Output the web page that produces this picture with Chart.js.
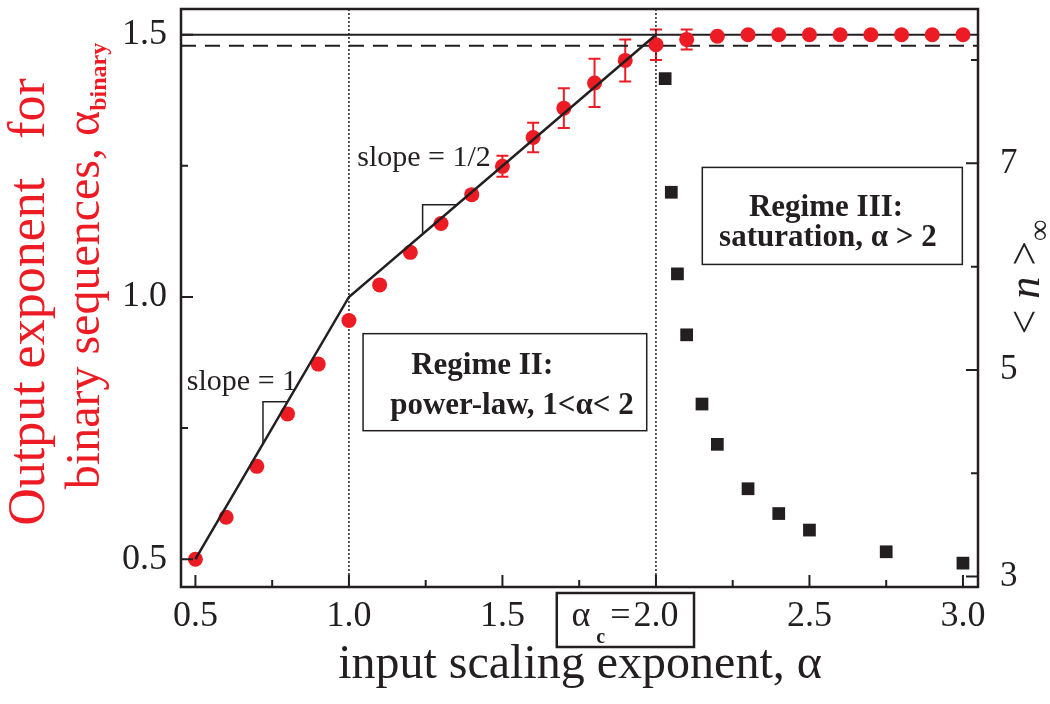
<!DOCTYPE html>
<html>
<head>
<meta charset="utf-8">
<script src="https://cdn.jsdelivr.net/npm/chart.js@4.4.1/dist/chart.umd.min.js"></script>
<style>
  html, body { margin: 0; padding: 0; background: #fff; }
  #wrap { width: 1050px; height: 704px; }
</style>
</head>
<body>
<div id="wrap"><canvas id="chart" width="1050" height="704"></canvas></div>
<script>
// input exponent alpha for the red points
var alphaIn = [0.5, 0.6, 0.7, 0.8, 0.9, 1.0, 1.1, 1.2, 1.3, 1.4, 1.5, 1.6, 1.7,
               1.8, 1.9, 2.0, 2.1, 2.2, 2.3, 2.4, 2.5, 2.6, 2.7, 2.8, 2.9, 3.0];
// output exponent alpha_binary (left axis)
var alphaBinary = [0.500, 0.580, 0.677, 0.777, 0.872, 0.955, 1.023, 1.085, 1.140, 1.195,
                   1.249, 1.304, 1.360, 1.408, 1.451, 1.481, 1.491, 1.497, 1.500, 1.500,
                   1.500, 1.500, 1.500, 1.500, 1.500, 1.500];
var alphaErr = [0, 0, 0, 0, 0, 0, 0, 0, 0, 0.008,
                0.020, 0.028, 0.038, 0.046, 0.040, 0.029, 0.019, 0, 0, 0,
                0, 0, 0, 0, 0, 0];
// <n>_inf (right axis)
var nAlpha = [2.03, 2.05, 2.07, 2.10, 2.15, 2.20, 2.30, 2.40, 2.50, 2.75, 3.00];
var nInf = [7.82, 6.72, 5.93, 5.34, 4.67, 4.28, 3.85, 3.61, 3.45, 3.24, 3.13];

// guide lines
var fitX = [0.5, 1.0, 2.0];
var fitY = [0.5, 1.0, 1.5];
var satLevel = 1.5;
var dashLevel = 1.479;
var regimeBounds = [1.0, 2.0];

// ticks
var xTicks = [0.5, 1.0, 1.5, 2.0, 2.5, 3.0];
var xTickLabels = ['0.5', '1.0', '1.5', '', '2.5', '3.0'];
var xMinor = [0.75, 1.25, 1.75, 2.25, 2.75];
var yTicks = [0.5, 1.0, 1.5];
var yMinor = [0.75, 1.25];
var y2Ticks = [3, 5, 7];
var y2Minor = [4, 6, 8];

var RED = 'rgb(237,28,36)';
var INK = '#231f20';
var SERIF = '"Liberation Serif", "Times New Roman", serif';

var xMin = 0.453, xMax = 3.049;
var yMin = 0.447, yMax = 1.549;

function pts(xs, ys) {
    return xs.map(function(x, i) { return { x: x, y: ys[i] }; });
}

var decor = {
    id: 'decor',
    beforeDatasetsDraw: function(chart) {
        var ctx = chart.ctx, sx = chart.scales.x, sy = chart.scales.y;
        ctx.save();
        ctx.strokeStyle = RED;
        ctx.lineWidth = 2;
        alphaIn.forEach(function(a, i) {
            var e = alphaErr[i];
            if (!e) return;
            var px = sx.getPixelForValue(a);
            var y1 = sy.getPixelForValue(alphaBinary[i] - e);
            var y2 = sy.getPixelForValue(alphaBinary[i] + e);
            ctx.beginPath();
            ctx.moveTo(px, y1); ctx.lineTo(px, y2);
            ctx.moveTo(px - 6, y1); ctx.lineTo(px + 6, y1);
            ctx.moveTo(px - 6, y2); ctx.lineTo(px + 6, y2);
            ctx.stroke();
        });
        ctx.restore();
    },
    afterDraw: function(chart) {
        var ctx = chart.ctx, ca = chart.chartArea;
        var sx = chart.scales.x, sy = chart.scales.y, sy2 = chart.scales.y2;
        ctx.save();

        // frame
        ctx.strokeStyle = INK;
        ctx.lineWidth = 2.5;
        ctx.strokeRect(ca.left, ca.top, ca.right - ca.left, ca.bottom - ca.top);

        // inward ticks
        ctx.lineWidth = 2;
        ctx.beginPath();
        function xt(v, len) { var p = sx.getPixelForValue(v); ctx.moveTo(p, ca.bottom); ctx.lineTo(p, ca.bottom - len); }
        function yt(v, len) { var p = sy.getPixelForValue(v); ctx.moveTo(ca.left, p); ctx.lineTo(ca.left + len, p); }
        function y2t(v, len) { var p = sy2.getPixelForValue(v); ctx.moveTo(ca.right, p); ctx.lineTo(ca.right - len, p); }
        xTicks.forEach(function(v) { xt(v, 12); });
        xMinor.forEach(function(v) { xt(v, 7); });
        yTicks.forEach(function(v) { yt(v, 12); });
        yMinor.forEach(function(v) { yt(v, 7); });
        y2Ticks.forEach(function(v) { y2t(v, 12); });
        y2Minor.forEach(function(v) { y2t(v, 7); });
        ctx.stroke();

        // x tick labels
        ctx.fillStyle = INK;
        ctx.font = '36px ' + SERIF;
        ctx.textAlign = 'center';
        ctx.textBaseline = 'alphabetic';
        var labBase = ca.bottom + 39;
        xTicks.forEach(function(v, i) {
            if (xTickLabels[i]) ctx.fillText(xTickLabels[i], sx.getPixelForValue(v), labBase);
        });

        // alpha_c = 2.0 boxed label
        var p2 = sx.getPixelForValue(2.0);
        ctx.fillText('2.0', p2, labBase);
        var w20 = ctx.measureText('2.0').width;
        ctx.textAlign = 'right';
        var eqX = p2 - w20 / 2 - 3;
        ctx.fillText('=', eqX, labBase);
        var cX = eqX - ctx.measureText('=').width - 5;
        ctx.font = 'bold 20px ' + SERIF;
        ctx.fillText('c', cX, labBase + 17);
        var cW = ctx.measureText('c').width;
        ctx.font = '36px ' + SERIF;
        ctx.fillText('\u03b1', cX - cW - 6, labBase);
        ctx.lineWidth = 2.5;
        ctx.strokeRect(sx.getPixelForValue(1.677), ca.bottom + 6,
                       sx.getPixelForValue(2.124) - sx.getPixelForValue(1.677), 54);

        // x title
        ctx.textAlign = 'center';
        ctx.font = '48px ' + SERIF;
        ctx.fillText('input scaling exponent, \u03b1', 580, ca.bottom + 91);

        // slope notes
        ctx.textAlign = 'left';
        ctx.font = '30px ' + SERIF;
        ctx.fillText('slope = 1', sx.getPixelForValue(0.472), sy.getPixelForValue(0.823));
        ctx.fillText('slope = 1/2', sx.getPixelForValue(1.027), sy.getPixelForValue(1.249));

        // regime boxes
        function box(x0, x1, y0, y1) {
            var a = sx.getPixelForValue(x0), b = sx.getPixelForValue(x1);
            var c = sy.getPixelForValue(y1), d = sy.getPixelForValue(y0);
            ctx.fillStyle = '#fff';
            ctx.fillRect(a, c, b - a, d - c);
            ctx.lineWidth = 1.5;
            ctx.strokeRect(a, c, b - a, d - c);
            ctx.fillStyle = INK;
        }
        box(1.046, 1.970, 0.745, 0.930);
        box(2.151, 2.998, 1.062, 1.247);
        ctx.textAlign = 'center';
        ctx.font = 'bold 31px ' + SERIF;
        ctx.fillText('Regime II:', sx.getPixelForValue(1.434), sy.getPixelForValue(0.853));
        ctx.fillText('power-law, 1<\u03b1< 2', sx.getPixelForValue(1.531), sy.getPixelForValue(0.777));
        ctx.fillText('Regime III:', sx.getPixelForValue(2.554), sy.getPixelForValue(1.155));
        ctx.fillText('saturation, \u03b1 > 2', sx.getPixelForValue(2.560), sy.getPixelForValue(1.098));

        // left title (red, rotated)
        ctx.fillStyle = RED;
        ctx.save();
        ctx.translate(30, 302);
        ctx.rotate(-Math.PI / 2);
        ctx.textBaseline = 'middle';
        ctx.textAlign = 'center';
        ctx.font = '52px ' + SERIF;
        ctx.fillText('Output exponent   for', 0, 0);
        ctx.restore();

        ctx.save();
        ctx.translate(86, 266);
        ctx.rotate(-Math.PI / 2);
        ctx.textBaseline = 'middle';
        ctx.textAlign = 'left';
        ctx.font = '48px ' + SERIF;
        var main = 'binary sequences, \u03b1';
        var wm = ctx.measureText(main).width;
        ctx.font = 'bold 24px ' + SERIF;
        var ws = ctx.measureText('binary').width;
        var start = -(wm + ws) / 2;
        ctx.font = '48px ' + SERIF;
        ctx.fillText(main, start, 0);
        ctx.font = 'bold 24px ' + SERIF;
        ctx.fillText('binary', start + wm, 14);
        ctx.restore();

        // right title
        ctx.fillStyle = INK;
        ctx.save();
        ctx.translate(1027, 277);
        ctx.rotate(-Math.PI / 2);
        ctx.textBaseline = 'middle';
        ctx.textAlign = 'left';
        var parts = [['< ', '44px ' + SERIF], ['n', 'italic 44px ' + SERIF], [' >', '44px ' + SERIF]];
        var tw = 0;
        parts.forEach(function(p) { ctx.font = p[1]; tw += ctx.measureText(p[0]).width; });
        ctx.font = '30px ' + SERIF;
        var winf = ctx.measureText('\u221e').width;
        var cx = -(tw + winf) / 2;
        parts.forEach(function(p) { ctx.font = p[1]; ctx.fillText(p[0], cx, 0); cx += ctx.measureText(p[0]).width; });
        ctx.font = '30px ' + SERIF;
        ctx.fillText('\u221e', cx, 14);
        ctx.restore();

        ctx.restore();
    }
};

var ctx = document.getElementById('chart').getContext('2d');

function noPad(s) {
    s.paddingTop = 0; s.paddingBottom = 0; s.paddingLeft = 0; s.paddingRight = 0;
}

new Chart(ctx, {
    type: 'scatter',
    data: {
        datasets: [
            {
                label: 'alpha_binary',
                data: pts(alphaIn, alphaBinary),
                yAxisID: 'y',
                backgroundColor: RED,
                borderColor: RED,
                pointRadius: 7.5,
                pointBorderWidth: 0,
                order: 3
            },
            {
                label: '<n>inf',
                data: pts(nAlpha, nInf),
                yAxisID: 'y2',
                pointStyle: 'rect',
                backgroundColor: INK,
                borderColor: INK,
                pointRadius: 9,
                pointBorderWidth: 0,
                order: 3
            },
            {
                label: 'fit',
                type: 'line',
                data: pts(fitX, fitY),
                yAxisID: 'y',
                borderColor: INK,
                borderWidth: 2.5,
                pointRadius: 0,
                order: 1
            },
            {
                label: 'saturation',
                type: 'line',
                data: pts([xMin, xMax], [satLevel, satLevel]),
                yAxisID: 'y',
                borderColor: INK,
                borderWidth: 2,
                pointRadius: 0,
                order: 4
            },
            {
                label: 'dashed',
                type: 'line',
                data: pts([xMin, xMax], [dashLevel, dashLevel]),
                yAxisID: 'y',
                borderColor: INK,
                borderWidth: 2,
                borderDash: [15, 9],
                pointRadius: 0,
                order: 4
            },
            {
                label: 'bound1',
                type: 'line',
                data: pts([regimeBounds[0], regimeBounds[0]], [yMin, yMax]),
                yAxisID: 'y',
                borderColor: INK,
                borderWidth: 1.5,
                borderDash: [2, 2],
                pointRadius: 0,
                order: 5
            },
            {
                label: 'bound2',
                type: 'line',
                data: pts([regimeBounds[1], regimeBounds[1]], [yMin, yMax]),
                yAxisID: 'y',
                borderColor: INK,
                borderWidth: 1.5,
                borderDash: [2, 2],
                pointRadius: 0,
                order: 5
            },
            {
                label: 'slope1',
                type: 'line',
                data: pts([0.72, 0.72, 0.80], [0.72, 0.80, 0.80]),
                yAxisID: 'y',
                borderColor: INK,
                borderWidth: 1.5,
                pointRadius: 0,
                order: 1
            },
            {
                label: 'slope12',
                type: 'line',
                data: pts([1.24, 1.24, 1.352], [1.12, 1.176, 1.176]),
                yAxisID: 'y',
                borderColor: INK,
                borderWidth: 1.5,
                pointRadius: 0,
                order: 1
            }
        ]
    },
    options: {
        responsive: false,
        animation: false,
        layout: { padding: { top: 3, left: 0, right: 0, bottom: 0 } },
        plugins: {
            legend: { display: false },
            tooltip: { enabled: false }
        },
        scales: {
            x: {
                type: 'linear',
                min: xMin,
                max: xMax,
                grid: { display: false },
                border: { display: false },
                ticks: { display: false },
                afterBuildTicks: function(s) { s.ticks = xTicks.map(function(v) { return { value: v }; }); },
                afterFit: function(s) { s.height = 117; noPad(s); }
            },
            y: {
                position: 'left',
                min: yMin,
                max: yMax,
                grid: { display: false },
                border: { display: false },
                afterBuildTicks: function(s) { s.ticks = yTicks.map(function(v) { return { value: v }; }); },
                ticks: {
                    color: INK,
                    padding: 6,
                    font: { family: SERIF, size: 36 },
                    callback: function(v) { return v.toFixed(1); }
                },
                afterFit: function(s) { s.width = 181; noPad(s); }
            },
            y2: {
                position: 'right',
                min: 2.899,
                max: 8.494,
                grid: { display: false },
                border: { display: false },
                afterBuildTicks: function(s) { s.ticks = y2Ticks.map(function(v) { return { value: v }; }); },
                ticks: {
                    color: INK,
                    padding: 14,
                    font: { family: SERIF, size: 35 },
                    callback: function(v) { return String(v); }
                },
                afterFit: function(s) { s.width = 72; noPad(s); }
            }
        }
    },
    plugins: [decor]
});
</script>
</body>
</html>
